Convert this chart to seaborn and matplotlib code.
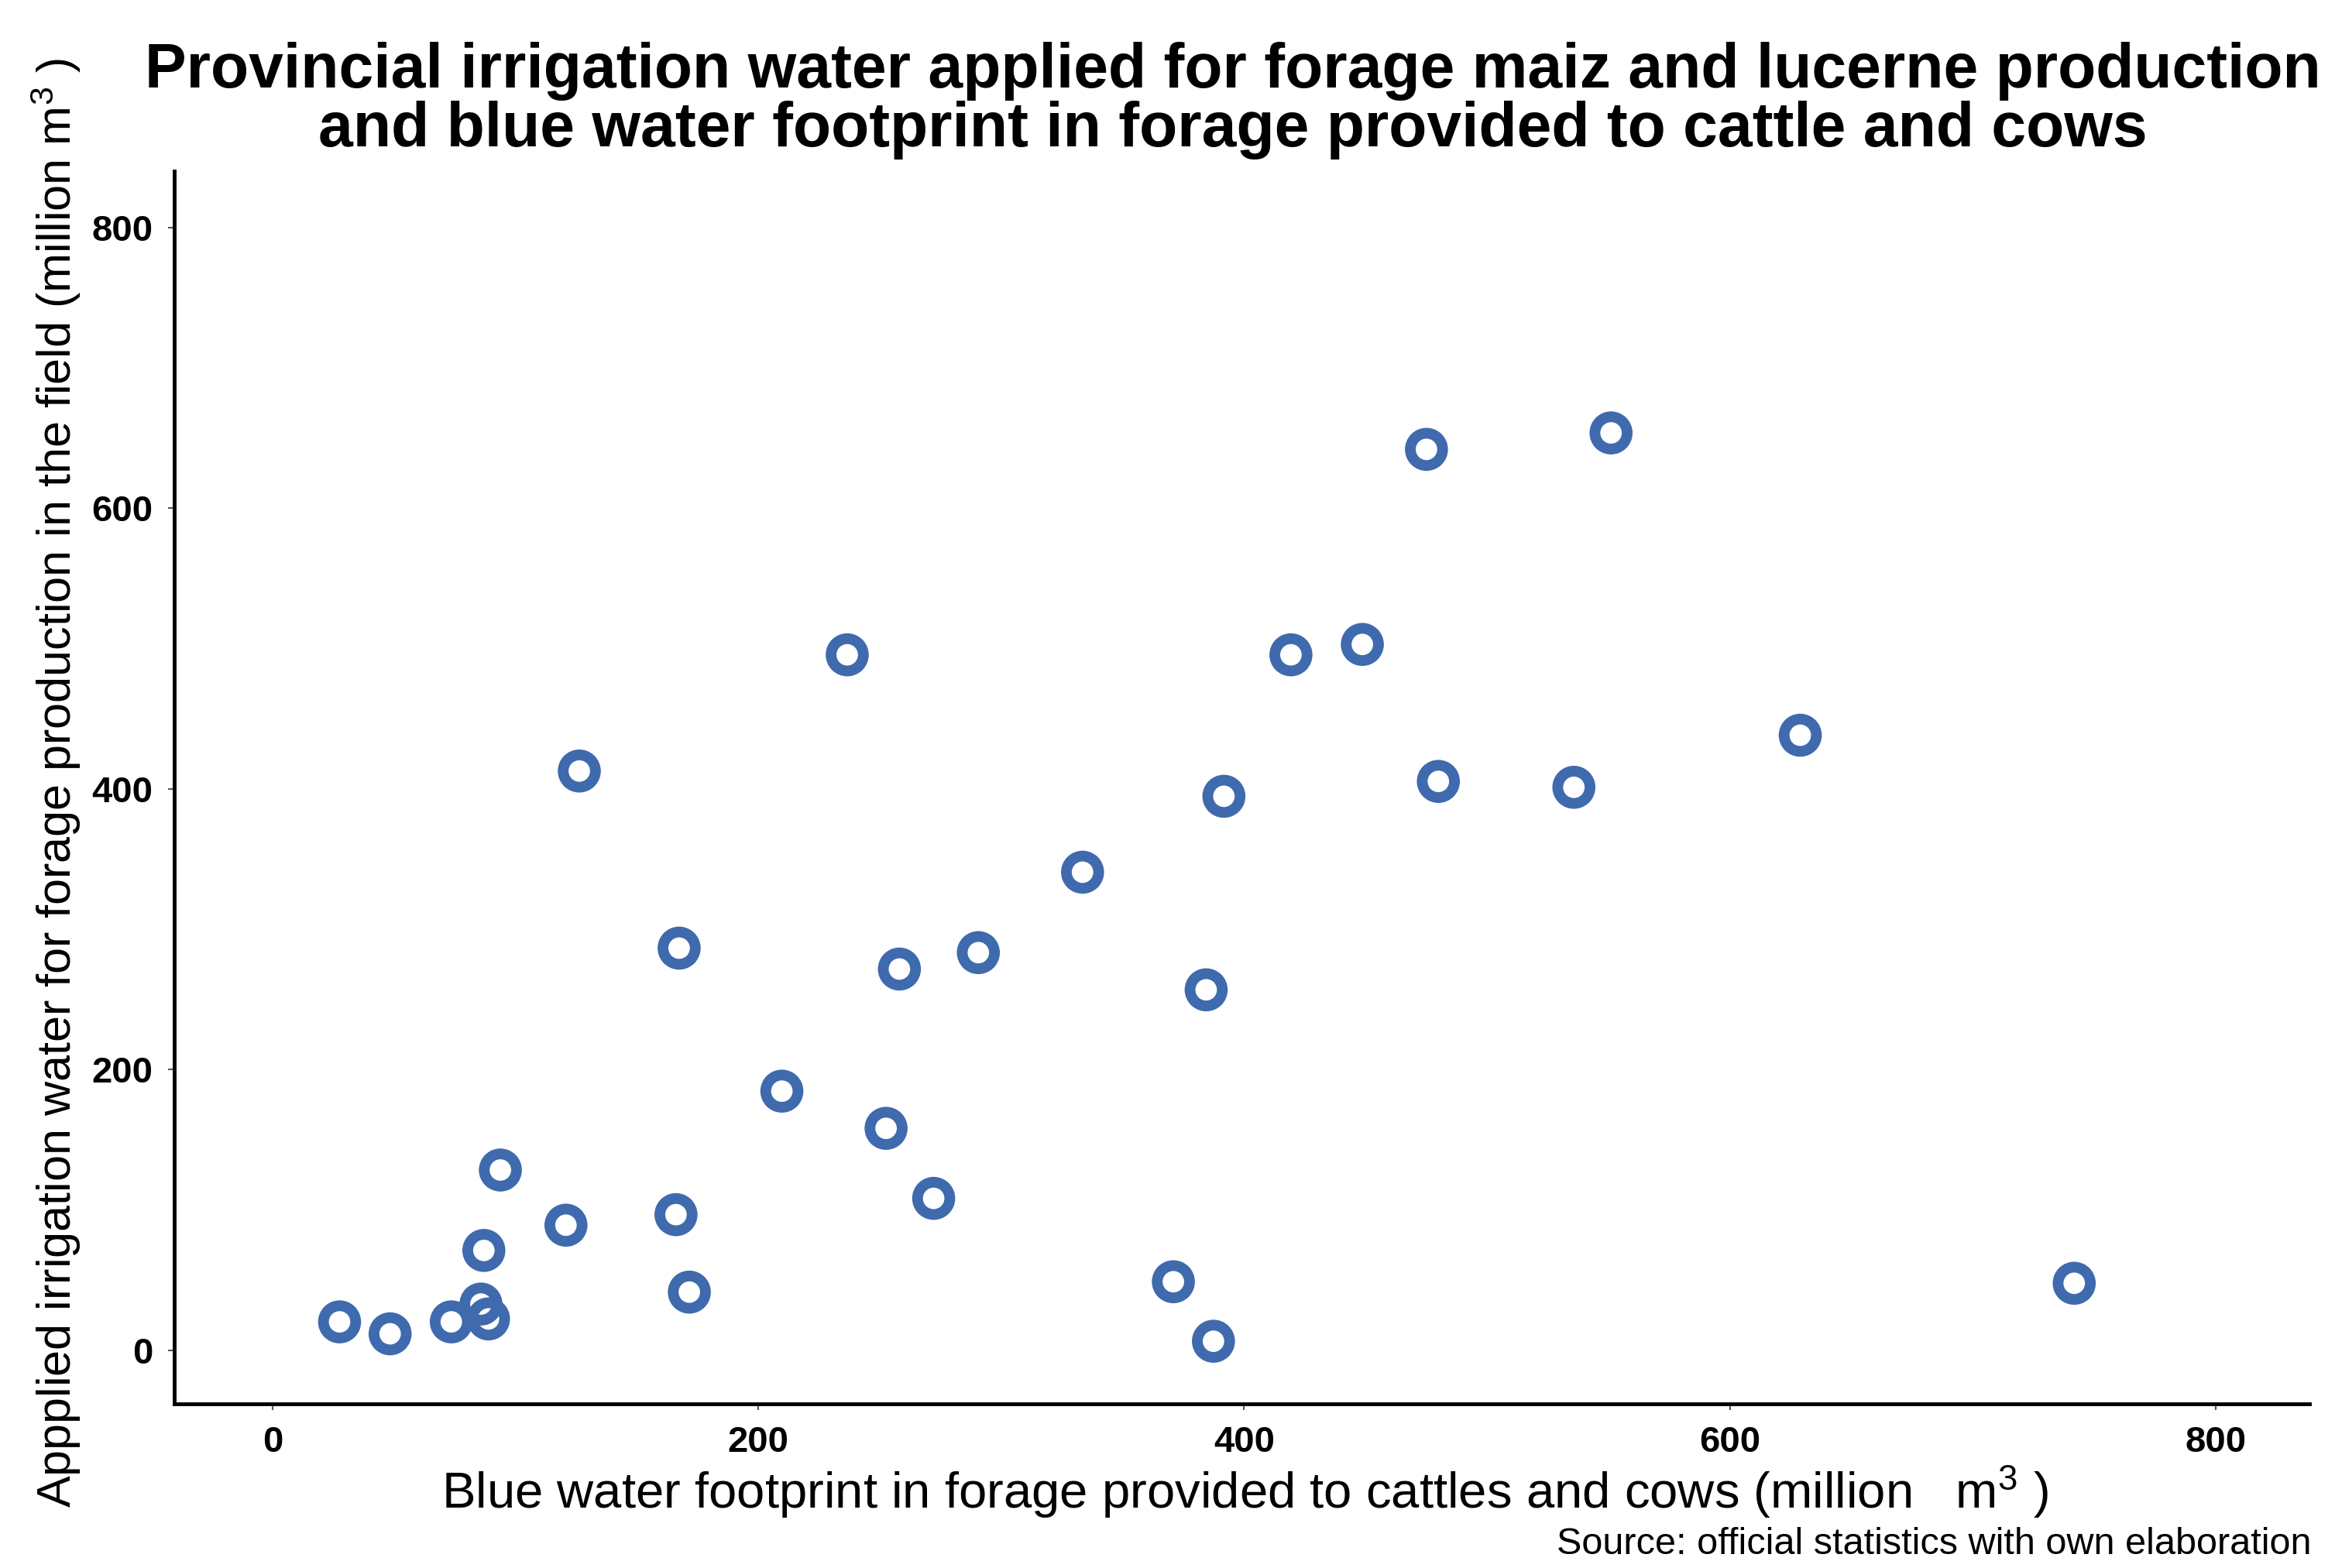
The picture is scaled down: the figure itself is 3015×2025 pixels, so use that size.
import matplotlib
matplotlib.use("Agg")
import matplotlib.pyplot as plt
import pandas as pd
import seaborn as sb

sb.set_style("white")
plt.rcParams["font.family"] = ["Liberation Sans", "DejaVu Sans"]
plt.rcParams["mathtext.fontset"] = "custom"
plt.rcParams["mathtext.rm"] = "Liberation Sans"
plt.rcParams["mathtext.it"] = "Liberation Sans"
plt.rcParams["text.color"] = "black"
plt.rcParams["xtick.color"] = "black"
plt.rcParams["ytick.color"] = "black"

# blue water footprint (x) vs applied irrigation water (y), million m3
blue_wf = [27.6, 48.4, 73.6, 85.8, 88.9, 87.0, 93.8, 120.8, 126.3, 166.1,
           167.4, 171.6, 209.7, 236.6, 252.6, 258.1, 272.2, 290.6, 333.5, 370.9,
           384.4, 387.4, 391.7, 419.3, 448.7, 475.1, 480.0, 535.8, 551.1, 629.0,
           741.8]
applied = [20.2, 11.7, 20.2, 32.9, 22.3, 71.1, 128.4, 89.1, 412.7, 96.6,
           286.5, 41.4, 184.6, 495.5, 158.1, 271.6, 108.2, 283.3, 340.6, 48.8,
           256.8, 6.4, 394.7, 495.5, 502.9, 641.9, 405.3, 401.1, 653.6, 438.2,
           47.7]
ticks = [0, 200, 400, 600, 800]

df = pd.DataFrame({"blue_wf": blue_wf, "applied": applied})

fig = plt.figure(figsize=(30.15, 20.25), dpi=100)
ax = fig.add_axes([0.0746, 0.1047, 0.9144, 0.7863])

sb.scatterplot(data=df, x="blue_wf", y="applied", ax=ax, s=900,
               facecolor="none", edgecolor="#3F6AAD", linewidth=10)

ax.set_xlim(-40.5, 838.6)
ax.set_ylim(-38.2, 840.3)
ax.set_xticks(ticks)
ax.set_yticks(ticks)
ax.tick_params(axis="both", length=6, width=1.5, color="#555555",
               labelcolor="black", labelsize=34, pad=14, bottom=True, left=True)
for lab in ax.get_xticklabels() + ax.get_yticklabels():
    lab.set_fontweight("bold")
sb.despine(ax=ax)
for side in ["left", "bottom"]:
    ax.spines[side].set_linewidth(3.5)
    ax.spines[side].set_color("black")
ax.set_xlabel("")
ax.set_ylabel("")

fig.text(0.528, 0.936,
         "Provincial irrigation water applied for forage maiz and lucerne production\n"
         "and blue water footprint in forage provided to cattle and cows",
         ha="center", va="center", fontsize=58, fontweight="bold", linespacing=1.0)
fig.text(0.533, 0.0484,
         r"Blue water footprint in forage provided to cattles and cows (million   m$^3$ )",
         ha="center", va="center", fontsize=47)
fig.text(0.024, 0.501,
         r"Appplied irrigation water for forage production in the field (million m$^3$ )",
         ha="center", va="center", rotation=90, fontsize=44)
fig.text(0.990, 0.004, "Source: official statistics with own elaboration",
         ha="right", va="bottom", fontsize=35)

fig.savefig("out.png", dpi=100)
